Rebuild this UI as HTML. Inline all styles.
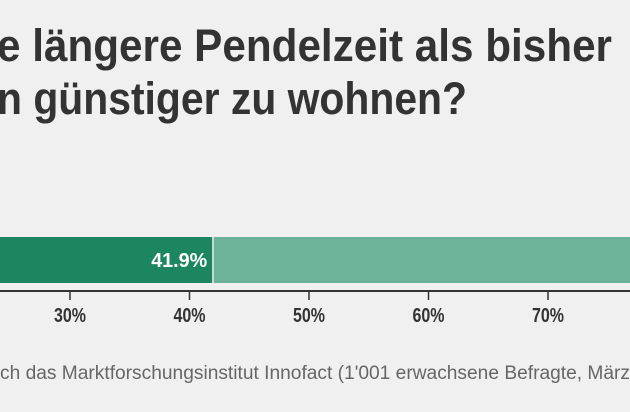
<!DOCTYPE html>
<html><head><meta charset="utf-8"><style>
html,body{margin:0;padding:0;background:#f0f0f0;width:630px;height:412px;overflow:hidden}
svg{display:block}
text{font-family:"Liberation Sans Narrow","Liberation Sans",sans-serif}
</style></head><body>
<svg id="c" width="630" height="412">
<text x="-3" y="61" font-size="45" font-weight="bold" fill="#333" textLength="615" lengthAdjust="spacingAndGlyphs">e längere Pendelzeit als bisher</text>
<text x="-3" y="114" font-size="45" font-weight="bold" fill="#333" textLength="470" lengthAdjust="spacingAndGlyphs">n günstiger zu wohnen?</text>
<g id="bars"></g>
<line x1="0" x2="630" y1="291" y2="291" stroke="#333" stroke-width="2"/>
<g id="ticks"></g>
<text x="0" y="379" font-size="19" fill="#666" textLength="630" lengthAdjust="spacingAndGlyphs">ch das Marktforschungsinstitut Innofact (1'001 erwachsene Befragte, März</text>
</svg>
<script>
const categories=["Ja","Nein"];
const values=[41.9,58.1];
const tickValues=[30,40,50,60,70,80];
const tickLabels=["30%","40%","50%","60%","70%","80%"];
const colors=["#1b8660","#6db39a"];
const ns="http://www.w3.org/2000/svg";
function x(v){return 70+(v-30)*11.95;}
const bars=document.getElementById('bars');
let acc=0;
values.forEach((v,i)=>{
  const r=document.createElementNS(ns,'rect');
  r.setAttribute('x',x(acc)+(i?1.5:0));
  r.setAttribute('y',237);
  r.setAttribute('width',Math.max(0,x(acc+v)-x(acc)-(i?1.5:0)));
  r.setAttribute('height',46);
  r.setAttribute('fill',colors[i]);
  
  
  bars.appendChild(r);
  if(i===0){
    const t=document.createElementNS(ns,'text');
    t.setAttribute('x',x(acc+v)-5);t.setAttribute('y',267);
    t.setAttribute('text-anchor','end');t.setAttribute('font-size','20');
    t.setAttribute('font-weight','bold');t.setAttribute('fill','#fff');
    t.setAttribute('textLength','56');t.setAttribute('lengthAdjust','spacingAndGlyphs');
    t.textContent=v.toFixed(1)+'%';
    
    
    bars.appendChild(t);
  }
  acc+=v;
});
const ticks=document.getElementById('ticks');
tickValues.forEach((v,i)=>{
  const l=document.createElementNS(ns,'line');
  l.setAttribute('x1',x(v));l.setAttribute('x2',x(v));
  l.setAttribute('y1',291);l.setAttribute('y2',300);
  l.setAttribute('stroke','#333');l.setAttribute('stroke-width','1.5');
  
  
  ticks.appendChild(l);
  const t=document.createElementNS(ns,'text');
  t.setAttribute('x',x(v)-16);t.setAttribute('y',322);
  t.setAttribute('font-size','20');
  t.setAttribute('textLength','32');t.setAttribute('lengthAdjust','spacingAndGlyphs');
  t.setAttribute('font-weight','bold');t.setAttribute('fill','#333');
  t.textContent=tickLabels[i];
  
  
  ticks.appendChild(t);
});
</script>
</body></html>
